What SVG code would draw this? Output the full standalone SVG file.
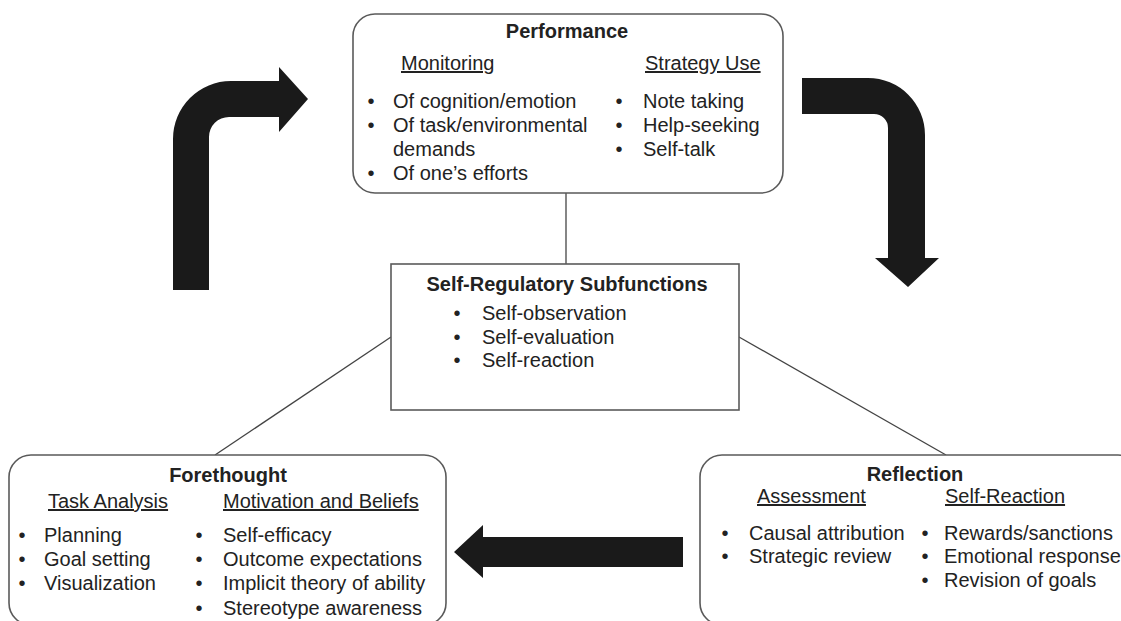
<svg xmlns="http://www.w3.org/2000/svg" width="1121" height="621" viewBox="0 0 1121 621">
  <style>
    .box { fill: #ffffff; stroke: #5a5a5a; stroke-width: 1.6; }
    .link { stroke: #444444; stroke-width: 1.3; fill: none; }
    .flow { fill: #1a1a1a; }
    text { font-family: "Liberation Sans", Arial, Helvetica, sans-serif; font-size: 20px; fill: #222222; }
    .title { font-weight: bold; text-anchor: middle; }
    .head { text-decoration: underline; }
    .dot { text-anchor: middle; }
  </style>

  <rect width="1121" height="621" fill="#ffffff"/>

  <!-- connectors: thin links to the central box and the three cycle arrows -->
  <g id="connectors">
    <line class="link" x1="566" y1="193" x2="566" y2="264"/>
    <line class="link" x1="391" y1="337" x2="215" y2="455"/>
    <line class="link" x1="739" y1="337" x2="946" y2="455"/>
    <path class="flow" d="M173,290 L173,139 A58,58 0 0 1 231,81 L279,81 L279,67 L308,99 L279,132 L279,117 L229,117 A20,20 0 0 0 209,137 L209,290 Z"/>
    <path class="flow" d="M802,78 L868,78 A57,57 0 0 1 925,135 L925,258 L939,258 L908,287 L875,258 L888,258 L888,128 A14,14 0 0 0 874,114 L802,114 Z"/>
    <path class="flow" d="M683,537 L483,537 L483,525 L454,552 L483,578 L483,567 L683,567 Z"/>
  </g>

  <!-- Performance phase -->
  <g id="performance">
    <rect class="box" x="353" y="14" width="430" height="179" rx="22" ry="22"/>
    <text class="title" x="567" y="38">Performance</text>
    <text class="head" x="401" y="70">Monitoring</text>
    <text class="head" x="645" y="70">Strategy Use</text>
    <text class="dot" x="371" y="108">•</text>
    <text x="393" y="108">Of cognition/emotion</text>
    <text class="dot" x="371" y="132">•</text>
    <text x="393" y="132">Of task/environmental</text>
    <text x="393" y="156">demands</text>
    <text class="dot" x="371" y="180">•</text>
    <text x="393" y="180">Of one’s efforts</text>
    <text class="dot" x="619" y="108">•</text>
    <text x="643" y="108">Note taking</text>
    <text class="dot" x="619" y="132">•</text>
    <text x="643" y="132">Help-seeking</text>
    <text class="dot" x="619" y="156">•</text>
    <text x="643" y="156">Self-talk</text>
  </g>

  <!-- Central subfunctions box -->
  <g id="subfunctions">
    <rect class="box" x="391" y="264" width="348" height="146"/>
    <text class="title" x="567" y="291">Self-Regulatory Subfunctions</text>
    <text class="dot" x="457" y="320">•</text>
    <text x="482" y="320">Self-observation</text>
    <text class="dot" x="457" y="343.5">•</text>
    <text x="482" y="343.5">Self-evaluation</text>
    <text class="dot" x="457" y="367">•</text>
    <text x="482" y="367">Self-reaction</text>
  </g>

  <!-- Forethought phase -->
  <g id="forethought">
    <rect class="box" x="9" y="455" width="437" height="170" rx="22" ry="22"/>
    <text class="title" x="228" y="482">Forethought</text>
    <text class="head" x="48" y="508">Task Analysis</text>
    <text class="head" x="223" y="508">Motivation and Beliefs</text>
    <text class="dot" x="22" y="542">•</text>
    <text x="44" y="542">Planning</text>
    <text class="dot" x="22" y="566">•</text>
    <text x="44" y="566">Goal setting</text>
    <text class="dot" x="22" y="590">•</text>
    <text x="44" y="590">Visualization</text>
    <text class="dot" x="199" y="542">•</text>
    <text x="223" y="542">Self-efficacy</text>
    <text class="dot" x="199" y="566">•</text>
    <text x="223" y="566">Outcome expectations</text>
    <text class="dot" x="199" y="590">•</text>
    <text x="223" y="590">Implicit theory of ability</text>
    <text class="dot" x="199" y="615">•</text>
    <text x="223" y="615">Stereotype awareness</text>
  </g>

  <!-- Reflection phase -->
  <g id="reflection">
    <rect class="box" x="700" y="455" width="440" height="170" rx="22" ry="22"/>
    <text class="title" x="915" y="481">Reflection</text>
    <text class="head" x="757" y="503">Assessment</text>
    <text class="head" x="945" y="503">Self-Reaction</text>
    <text class="dot" x="725" y="540">•</text>
    <text x="749" y="540">Causal attribution</text>
    <text class="dot" x="725" y="563">•</text>
    <text x="749" y="563">Strategic review</text>
    <text class="dot" x="925" y="540">•</text>
    <text x="944" y="540">Rewards/sanctions</text>
    <text class="dot" x="925" y="563">•</text>
    <text x="944" y="563">Emotional response</text>
    <text class="dot" x="925" y="587">•</text>
    <text x="944" y="587">Revision of goals</text>
  </g>
</svg>
